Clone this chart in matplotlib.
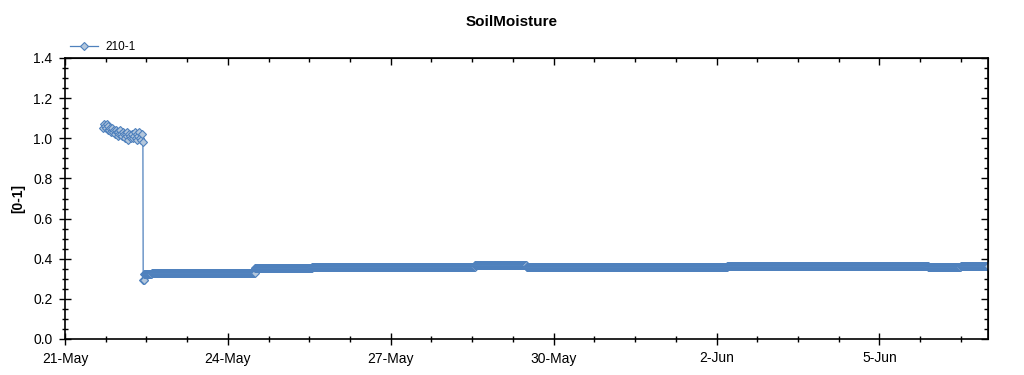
import numpy as np
import matplotlib
matplotlib.use("Agg")
import matplotlib.pyplot as plt
from matplotlib.ticker import MultipleLocator

plt.rcParams['font.family'] = ['Liberation Sans', 'DejaVu Sans']

# days after 21-May 00:00
tick_days = [0, 3, 6, 9, 12, 15]
tick_labels = ['21-May', '24-May', '27-May', '30-May', '2-Jun', '5-Jun']

# first wet readings, one every ~24 min from day 0.70
early_vals = [1.05, 1.07, 1.06, 1.05, 1.07, 1.04, 1.06, 1.04, 1.05, 1.03,
              1.05, 1.03, 1.04, 1.02, 1.04, 1.03, 1.01, 1.03, 1.02, 1.04,
              1.02, 1.01, 1.03, 1.02, 1.00, 1.02, 1.01, 1.03, 0.99, 1.02,
              1.01, 1.00, 1.02, 1.00, 1.01, 1.03, 1.00, 1.02, 0.99, 1.01,
              1.03, 1.00, 0.99, 1.02, 0.98]
early_start = 0.70
early_step = 0.0167

# after the drop the sensor sits on nearly flat levels
seg_start = [1.44, 1.46, 1.60, 3.50, 4.55, 7.55, 8.50, 12.20, 13.50, 15.90, 16.50]
seg_end = [1.46, 1.60, 3.50, 4.55, 7.55, 8.50, 12.20, 13.50, 15.90, 16.50, 17.00]
seg_level = [0.295, 0.322, 0.330, 0.352, 0.361, 0.367, 0.360, 0.366, 0.362, 0.357, 0.364]

days = list(early_start + early_step * np.arange(len(early_vals)))
vals = list(early_vals)
step = 1 / 144  # ten-minute readings
for s, e, v in zip(seg_start, seg_end, seg_level):
    n = max(1, int(round((e - s) / step)))
    days += list(s + step * np.arange(n))
    vals += [v] * n

fig = plt.figure(figsize=(10.24, 3.75), dpi=100)
ax = fig.add_axes([65 / 1024, 1 - 339 / 375, 923 / 1024, 281 / 375])

ax.plot(days, vals, color='#4f81bd', lw=0.9, marker='D', markersize=4,
        markerfacecolor='#b4c7dc', markeredgecolor='#4f81bd', markeredgewidth=0.8,
        label='210-1')

ax.set_xlim(0, 17)
ax.set_ylim(0, 1.4)
ax.set_xticks(tick_days)
ax.set_xticklabels(tick_labels)
ax.xaxis.set_minor_locator(MultipleLocator(0.75))
ax.yaxis.set_major_locator(MultipleLocator(0.2))
ax.yaxis.set_minor_locator(MultipleLocator(0.05))
ax.yaxis.set_major_formatter(plt.FuncFormatter(lambda v, p: '%.1f' % v))

ax.tick_params(which='both', direction='inout', colors='black', labelsize=10)
ax.tick_params(which='major', length=8, width=1, pad=5)
ax.tick_params(which='minor', length=5, width=1)
for sp in ax.spines.values():
    sp.set_linewidth(1.2)

# top and right: inward ticks only
top = ax.secondary_xaxis('top')
top.set_xticks(tick_days)
top.xaxis.set_minor_locator(MultipleLocator(0.75))
top.tick_params(which='both', direction='in', labeltop=False, width=1)
top.tick_params(which='major', length=5)
top.tick_params(which='minor', length=3)
right = ax.secondary_yaxis('right')
right.yaxis.set_major_locator(MultipleLocator(0.2))
right.yaxis.set_minor_locator(MultipleLocator(0.05))
right.tick_params(which='both', direction='in', labelright=False, width=1)
right.tick_params(which='major', length=5)
right.tick_params(which='minor', length=3)

ax.set_ylabel('[0-1]', fontsize=10, fontweight='bold', labelpad=6)
fig.suptitle('SoilMoisture', fontsize=11, fontweight='bold', x=0.5, y=0.96)
ax.legend(loc='lower left', bbox_to_anchor=(0.0, 1.0), frameon=False,
          fontsize=8.5, handlelength=2.4, borderaxespad=0.2, borderpad=0.2,
          handletextpad=0.6)

fig.savefig('out.png', dpi=100)
